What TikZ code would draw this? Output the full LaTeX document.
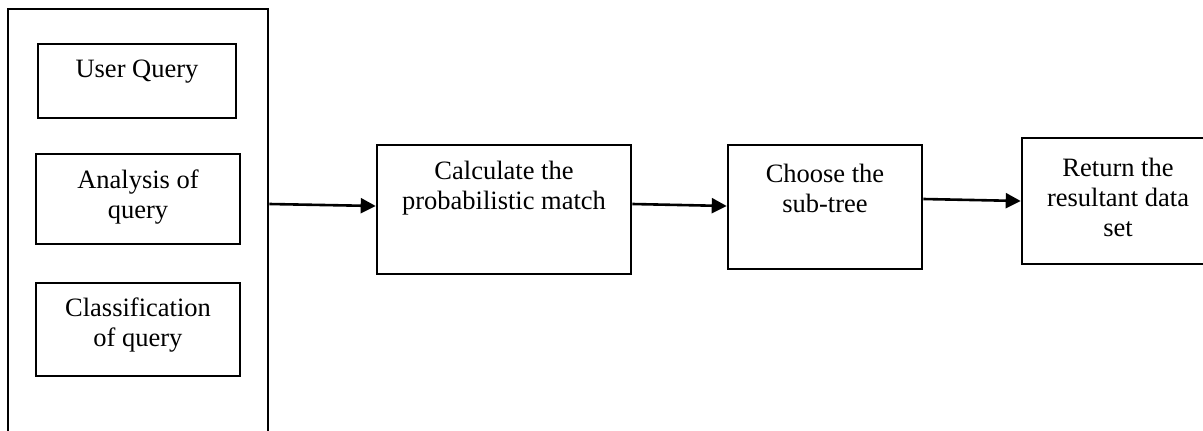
\documentclass[tikz,border=0pt]{standalone}
\usepackage{fontspec}
\setmainfont{Liberation Serif}
\usetikzlibrary{fit,arrows.meta}
\begin{document}
\begin{tikzpicture}[x=1pt,y=-1pt,
  box/.style={draw=black,line width=2.6pt,inner sep=0pt,rectangle},
  lbl/.style={align=center,inner sep=0pt,font=\fontsize{26.5}{30}\selectfont},
  arr/.style={line width=2.6pt,-{Triangle[length=15pt,width=15pt]}}]
\useasboundingbox (0,0) rectangle (1203,431);
\node[box,fit={(8,9) (268,460)}] (outer) {};
\node[box,fit={(38,44) (236,118)}] (uqB) {};
\node[box,fit={(36,154) (240,244)}] (anB) {};
\node[box,fit={(36,283) (240,376)}] (clB) {};
\node[box,fit={(377,145) (631,274)}] (calcB) {};
\node[box,fit={(728,145) (922,269)}] (chB) {};
\node[box,fit={(1022,138) (1220,264)}] (retB) {};
\node[lbl] (uqT) at (137,72) {User Query};
\node[lbl] (anT) at (138,197) {Analysis of\\query};
\node[lbl] (clT) at (138,325) {Classification\\of query};
\node[lbl] (calcT) at (504,188) {Calculate the\\probabilistic match};
\node[lbl] (chT) at (825,188) {Choose the\\sub-tree};
\node[lbl] (retT) at (1118,197) {Return the\\resultant data\\set};
\draw[arr] ([yshift=5.5pt]calcB.west -| outer.east) -- ([yshift=3.5pt]calcB.west);
\draw[arr] ([yshift=5.5pt]calcB.east) -- ([yshift=1pt]chB.west);
\draw[arr] ([yshift=8pt]chB.east) -- (retB.west);
\end{tikzpicture}
\end{document}
